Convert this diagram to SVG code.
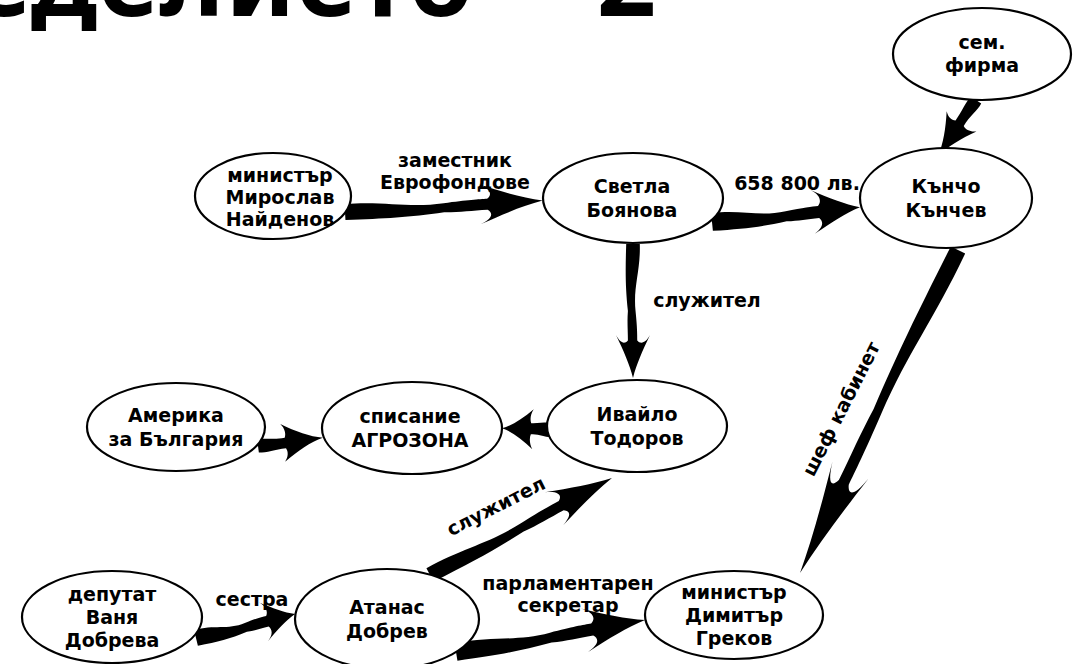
<svg xmlns="http://www.w3.org/2000/svg" width="1087" height="664" viewBox="0 0 1087 664" lang="bg" xml:lang="bg">
<style>
.n ellipse{fill:#fff;stroke:#000;stroke-width:2.2}
.n text,.lbl{font-family:"DejaVu Sans","Noto Sans",sans-serif;font-weight:bold;font-size:19px;fill:#000;text-anchor:middle}
.title{font-family:"Noto Sans","DejaVu Sans",sans-serif;font-weight:bold;font-size:104px;letter-spacing:0.8px;word-spacing:7px;fill:#000;text-anchor:end}
#connectors use{fill:#000}
</style>
<defs>
<path id="arr" d="M0,-8 C20,-9 32,0 50,-3 C62,-5 68,-5 72,-5 C75,-9 74,-15 68,-20 C80,-11 90,-4 100,0 C90,4 80,11 68,20 C74,15 75,10 72,6 C64,6 58,7 50,6 C32,9 20,9 0,8 Z"/>
<path id="arrS" d="M0,-7 C12,-8 25,-4 42,-5 C45,-9 44,-15 38,-20 C60,-10 80,-3 100,0 C80,3 60,10 38,20 C44,15 45,10 42,6 C25,6 12,8 0,7 Z"/>
</defs>
<rect width="1087" height="664" fill="#fff"/>
<text class="title" x="657" y="16">Земеделието – 2</text>
<g id="connectors">
<use href="#arr" transform="translate(345,212) rotate(-3.3) scale(1.98,1)"/>
<use href="#arr" transform="translate(712,222) rotate(-5.7) scale(1.487,1.1)"/>
<use href="#arrS" transform="translate(976,100) rotate(124.2) scale(0.677,0.9)"/>
<use href="#arr" transform="translate(633,244) rotate(90) scale(1.34,0.85)"/>
<use href="#arr" transform="translate(958,250) rotate(116.06) scale(3.596,1)"/>
<use href="#arrS" transform="translate(258,446) rotate(-7.3) scale(0.655,0.95)"/>
<use href="#arrS" transform="translate(552,430) rotate(182) scale(0.5,1)"/>
<use href="#arr" transform="translate(196,638) rotate(-13.6) scale(1.019,1)"/>
<use href="#arr" transform="translate(430,575) rotate(-28.05) scale(2.062,0.95)"/>
<use href="#arr" transform="translate(456,652) rotate(-9.6) scale(1.917,1.1)"/>
</g>
<g id="labels">
<text class="lbl" x="455" y="167">заместник</text>
<text class="lbl" x="455" y="189">Еврофондове</text>
<text class="lbl" x="797" y="190">658 800 лв.</text>
<text class="lbl" x="707" y="307">служител</text>
<text class="lbl" transform="translate(847,412) rotate(-63)">шеф кабинет</text>
<text class="lbl" transform="translate(499,512) rotate(-27)">служител</text>
<text class="lbl" x="252" y="606">сестра</text>
<text class="lbl" x="568" y="590">парламентарен</text>
<text class="lbl" x="568" y="612">секретар</text>
</g>
<g id="n-naydenov" class="n"><ellipse cx="273" cy="196" rx="78" ry="43"/><text x="280" y="182">министър</text><text x="280" y="204">Мирослав</text><text x="280" y="226">Найденов</text></g>
<g id="n-boyanova" class="n"><ellipse cx="633" cy="198" rx="90" ry="45"/><text x="632" y="193">Светла</text><text x="632" y="217">Боянова</text></g>
<g id="n-kanchev" class="n"><ellipse cx="946" cy="198" rx="86" ry="50"/><text x="946" y="193">Кънчо</text><text x="946" y="217">Кънчев</text></g>
<g id="n-firma" class="n"><ellipse cx="982" cy="54" rx="89" ry="46"/><text x="982" y="49">сем.</text><text x="982" y="72">фирма</text></g>
<g id="n-todorov" class="n"><ellipse cx="637" cy="426" rx="90" ry="46"/><text x="637" y="421">Ивайло</text><text x="637" y="445">Тодоров</text></g>
<g id="n-agrozona" class="n"><ellipse cx="412" cy="428" rx="90" ry="46"/><text x="410" y="423">списание</text><text x="410" y="447">АГРОЗОНА</text></g>
<g id="n-amerika" class="n"><ellipse cx="176" cy="427" rx="89" ry="44"/><text x="176" y="422">Америка</text><text x="176" y="446">за България</text></g>
<g id="n-dobreva" class="n"><ellipse cx="112" cy="617" rx="90" ry="46"/><text x="112" y="601">депутат</text><text x="112" y="624">Ваня</text><text x="112" y="647">Добрева</text></g>
<g id="n-dobrev" class="n"><ellipse cx="387" cy="619" rx="92" ry="50"/><text x="387" y="614">Атанас</text><text x="387" y="638">Добрев</text></g>
<g id="n-grekov" class="n"><ellipse cx="734" cy="615" rx="89" ry="44"/><text x="734" y="599">министър</text><text x="734" y="622">Димитър</text><text x="734" y="645">Греков</text></g>
</svg>
